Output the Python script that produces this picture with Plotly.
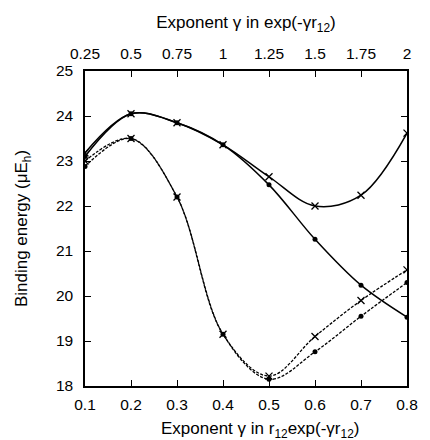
import plotly.graph_objects as go

# Bottom axis: exponent gamma in r12 exp(-gamma r12)  (dashed curves)
gamma_r12 = [0.1, 0.2, 0.3, 0.4, 0.5, 0.6, 0.7, 0.8]
dashed_cross = [23.00, 23.50, 22.20, 19.15, 18.22, 19.10, 19.90, 20.58]
dashed_dot = [22.88, 23.50, 22.20, 19.15, 18.15, 18.76, 19.55, 20.30]

# Top axis: exponent gamma in exp(-gamma r12)  (solid curves)
gamma_exp = [0.25, 0.5, 0.75, 1.0, 1.25, 1.5, 1.75, 2.0]
solid_cross = [23.18, 24.05, 23.85, 23.36, 22.65, 22.00, 22.24, 23.62]
solid_dot = [23.10, 24.05, 23.85, 23.36, 22.47, 21.26, 20.24, 19.53]

bottom_ticks = [0.1, 0.2, 0.3, 0.4, 0.5, 0.6, 0.7, 0.8]
top_ticks = [0.25, 0.5, 0.75, 1, 1.25, 1.5, 1.75, 2]
top_tick_text = ["0.25", "0.5", "0.75", "1", "1.25", "1.5", "1.75", "2"]
y_ticks = [18, 19, 20, 21, 22, 23, 24, 25]

FONT = "Liberation Sans, Arial, Helvetica, sans-serif"
TICK_SIZE = 15.5
TITLE_SIZE = 17

fig = go.Figure()

fig.add_trace(go.Scatter(
    x=gamma_exp, y=solid_cross, mode="lines+markers", xaxis="x2",
    line=dict(color="black", width=1.5, shape="spline", smoothing=1),
    marker=dict(symbol="x-thin", size=7, line=dict(width=1.3, color="black"), color="black"),
    showlegend=False))
fig.add_trace(go.Scatter(
    x=gamma_exp, y=solid_dot, mode="lines+markers", xaxis="x2",
    line=dict(color="black", width=1.5, shape="spline", smoothing=1),
    marker=dict(symbol="circle", size=5, color="black"),
    showlegend=False))
fig.add_trace(go.Scatter(
    x=gamma_r12, y=dashed_cross, mode="lines+markers",
    line=dict(color="black", width=1.3, shape="spline", smoothing=1, dash="3px,1.5px"),
    marker=dict(symbol="x-thin", size=7, line=dict(width=1.3, color="black"), color="black"),
    showlegend=False))
fig.add_trace(go.Scatter(
    x=gamma_r12, y=dashed_dot, mode="lines+markers",
    line=dict(color="black", width=1.3, shape="spline", smoothing=1, dash="3px,1.5px"),
    marker=dict(symbol="circle", size=5, color="black"),
    showlegend=False))

axis_common = dict(showgrid=False, zeroline=False, showline=True, linecolor="black",
                   linewidth=1.5, ticks="inside", ticklen=6, tickwidth=1.2,
                   tickcolor="black", tickfont=dict(family=FONT, size=TICK_SIZE, color="black"))

fig.update_layout(
    width=430, height=440,
    margin=dict(l=85, r=17, t=71, b=54),
    paper_bgcolor="white", plot_bgcolor="white",
    font=dict(family=FONT, size=TITLE_SIZE, color="black"),
    xaxis=dict(range=[0.1, 0.8], tickvals=bottom_ticks, tickformat=".1f",
               ticklabelstandoff=4, **axis_common),
    xaxis2=dict(range=[0.25, 2.0], tickvals=top_ticks, ticktext=top_tick_text,
                overlaying="x", side="top", anchor="y", ticklabelstandoff=4,
                title=dict(text="Exponent γ in exp(-γr<sub>12</sub>)",
                           font=dict(family=FONT, size=TITLE_SIZE), standoff=12),
                **axis_common),
    yaxis=dict(range=[18, 25], tickvals=y_ticks, mirror="ticks", ticklabelstandoff=7,
               title=dict(text="Binding energy (μE<sub>h</sub>)",
                          font=dict(family=FONT, size=TITLE_SIZE), standoff=24),
               **axis_common),
    annotations=[dict(
        text="Exponent γ in r<sub>12</sub>exp(-γr<sub>12</sub>)",
        xref="paper", yref="paper", x=0.544, y=0, xanchor="center", yanchor="middle",
        yshift=-44, showarrow=False, font=dict(family=FONT, size=TITLE_SIZE))],
)

fig.write_html("out.html", config={"displayModeBar": False},
               post_script="document.body.style.margin='0';document.body.style.overflow='hidden';")
